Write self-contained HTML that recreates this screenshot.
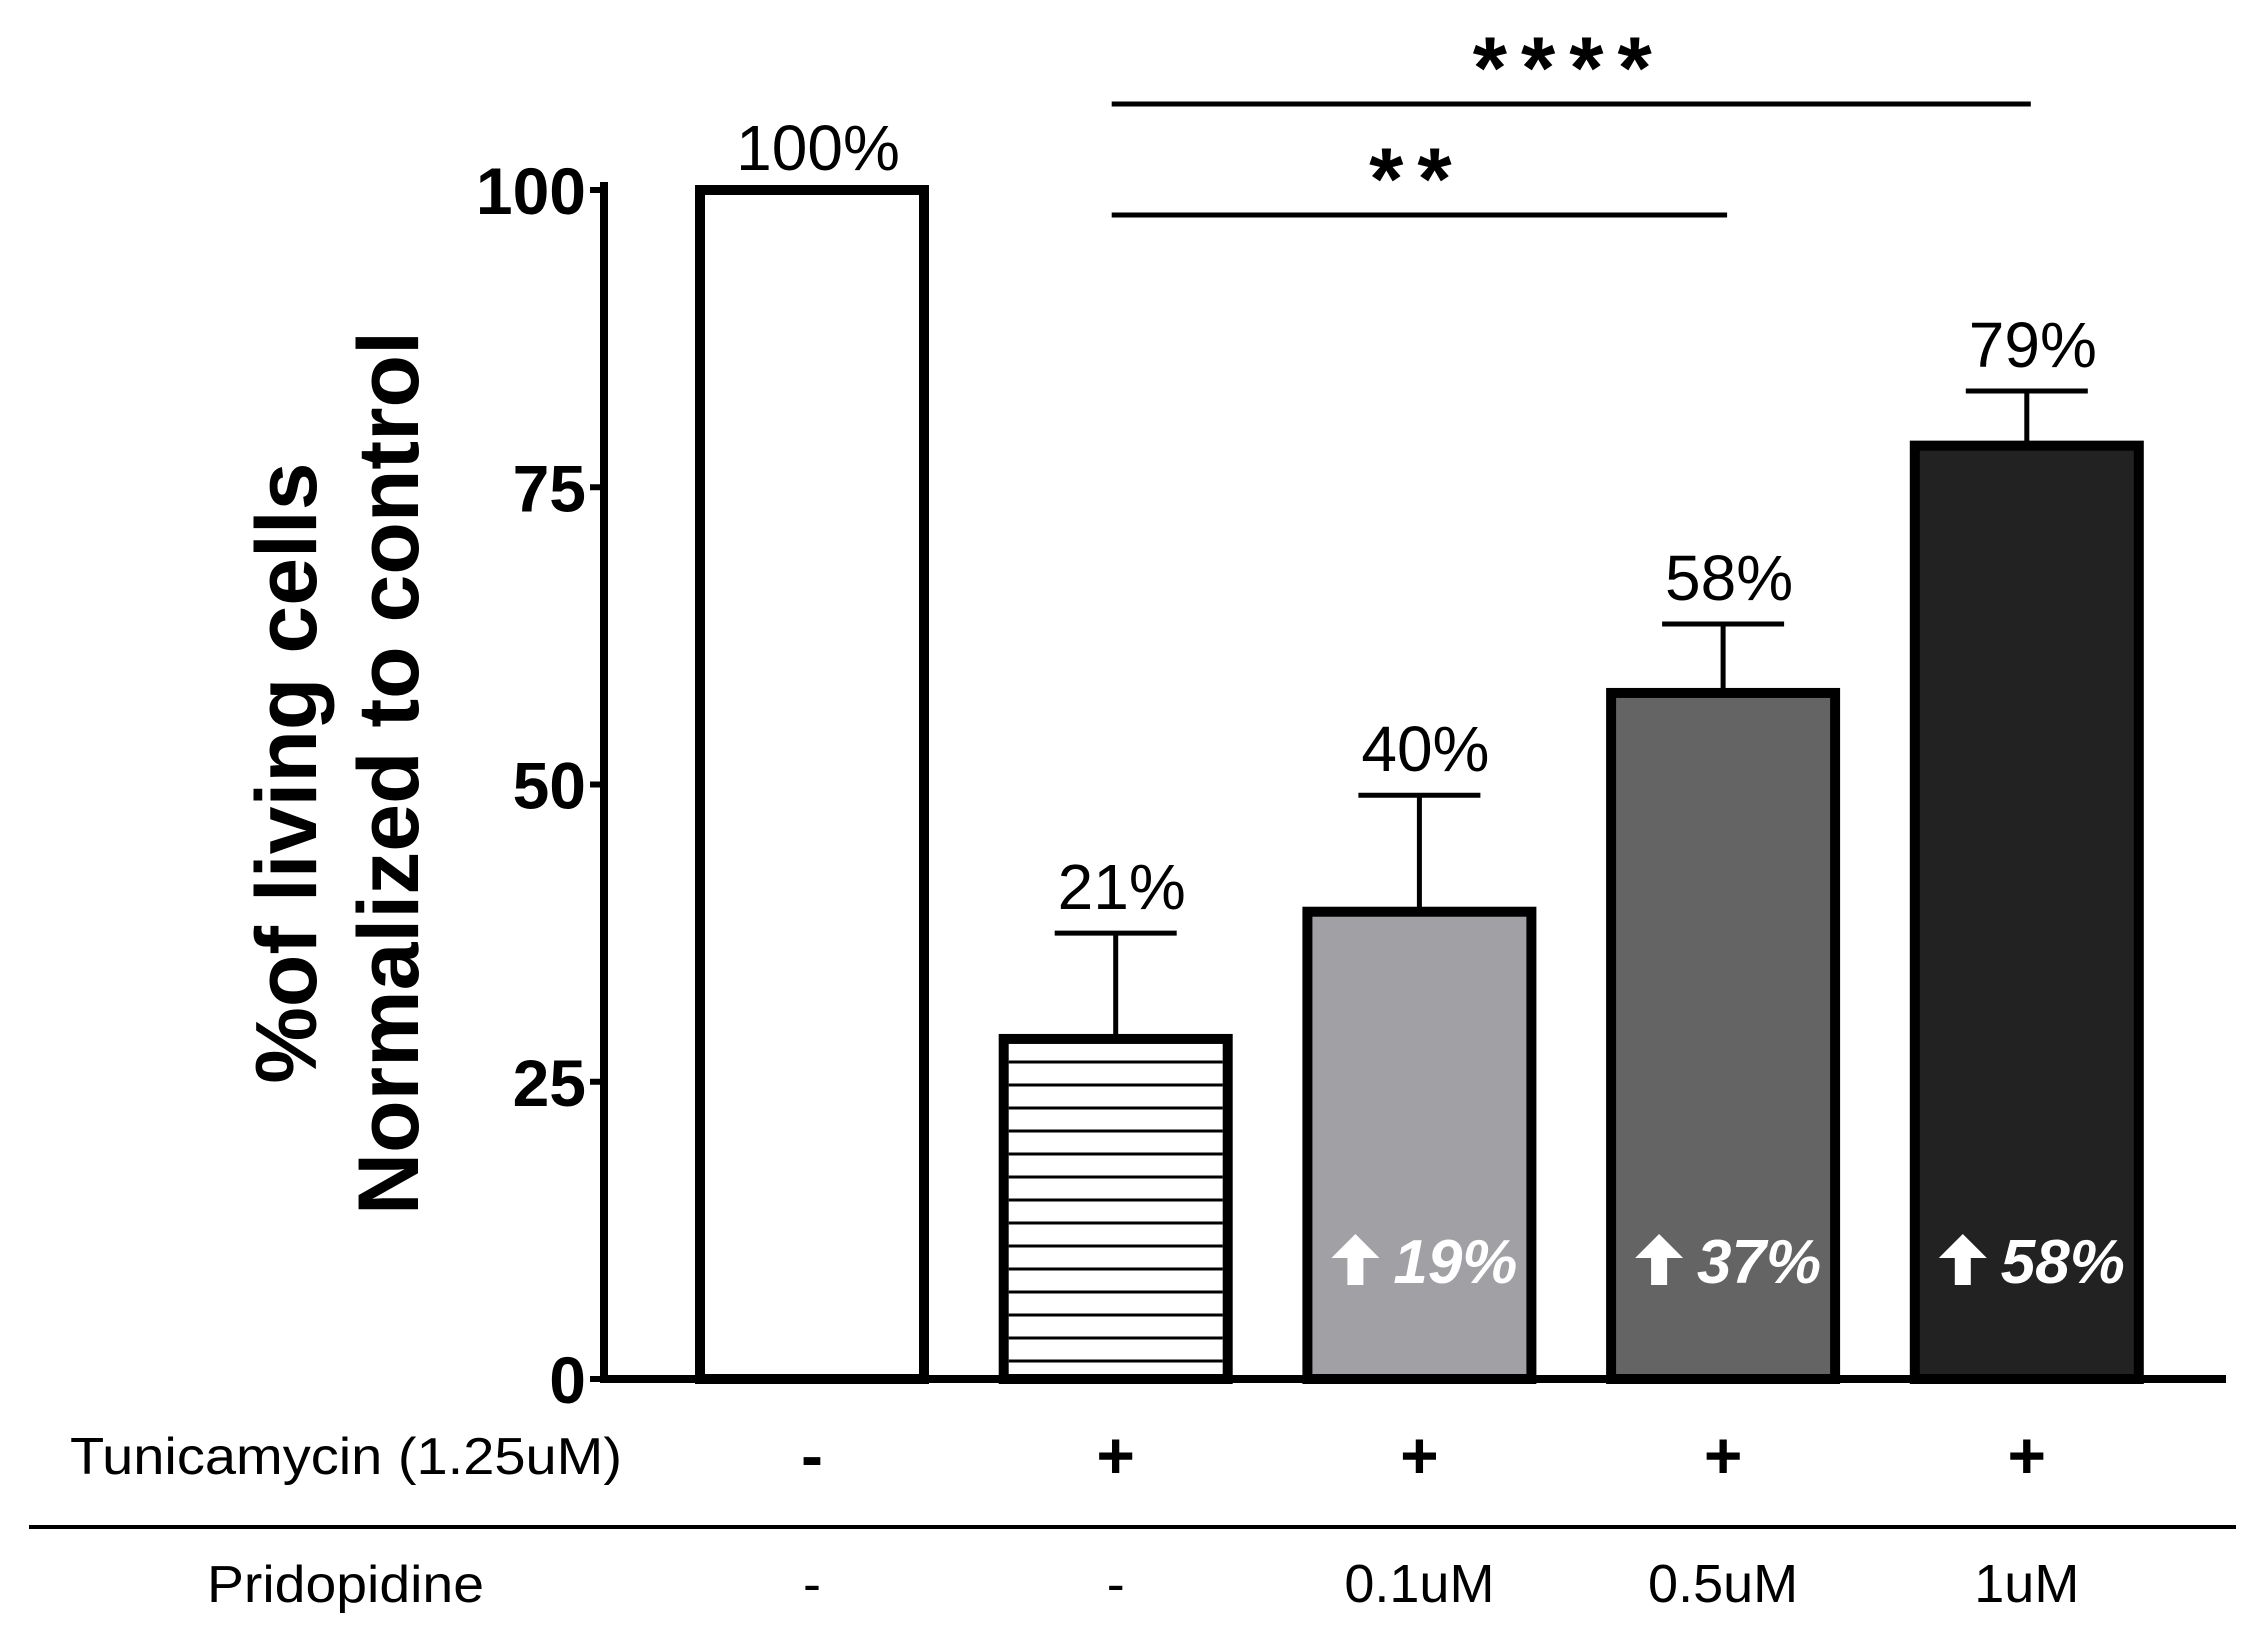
<!DOCTYPE html>
<html><head><meta charset="utf-8"><style>
html,body{margin:0;padding:0;background:#fff;}
svg{display:block;font-family:"Liberation Sans",sans-serif;}
</style></head><body>
<svg id="chart" width="2265" height="1632" viewBox="0 0 2265 1632" xmlns="http://www.w3.org/2000/svg">
<g id="static">
  <text transform="translate(316,773) rotate(-90)" text-anchor="middle" font-size="86" font-weight="bold">%of living cells</text>
  <text transform="translate(418,773) rotate(-90)" text-anchor="middle" font-size="86" font-weight="bold">Normalized to control</text>
  <text x="70" y="1474" font-size="52" textLength="552" lengthAdjust="spacingAndGlyphs">Tunicamycin (1.25uM)</text>
  <line x1="29" y1="1527" x2="2236" y2="1527" stroke="#000" stroke-width="4"/>
  <text x="207" y="1602" font-size="52" textLength="277" lengthAdjust="spacingAndGlyphs">Pridopidine</text>
</g>
<g id="marks"></g>
</svg>
<script>
const categories = ["Control", "Tunicamycin", "Tun+Prid 0.1uM", "Tun+Prid 0.5uM", "Tun+Prid 1uM"];
const values = [100, 28.6, 39.3, 57.7, 78.5];
const errors = [0, 8.9, 9.8, 5.8, 4.6];
const valueLabels = ["100%", "21%", "40%", "58%", "79%"];
const innerLabels = ["", "", "19%", "37%", "58%"];
const tunicamycinRow = ["-", "+", "+", "+", "+"];
const pridopidineRow = ["-", "-", "0.1uM", "0.5uM", "1uM"];
const fills = ["#ffffff", "hatch", "#a1a0a5", "#646464", "#222222"];
const yTicks = [0, 25, 50, 75, 100];
const sigBars = [{from: 1, to: 4, label: "****"}, {from: 1, to: 3, label: "**"}];

const NS = "http://www.w3.org/2000/svg";
const g = document.getElementById("marks");
const y0 = 1379, y100 = 190;
function yScale(v){ return y0 - (y0 - y100) * v / 100; }
function xScale(i){ return 812 + i * 303.7; }
const barW = 224;
function mk(tag, attrs){ const e = document.createElementNS(NS, tag); for (const k in attrs) e.setAttribute(k, attrs[k]); g.appendChild(e); return e; }

categories.forEach((c, i) => {
  const x = xScale(i) - barW/2, yt = yScale(values[i]);
  const fill = fills[i] === "hatch" ? "#fff" : fills[i];
  const r = mk("rect", {x: x, y: yt, width: barW, height: y0 - yt, fill: fill, stroke: "#000", "stroke-width": 10});
  
  
  if (fills[i] === "hatch") {
    for (let yy = yt + 23; yy < y0 - 6; yy += 23) {
      const l = mk("line", {x1: x + 5, x2: x + barW - 5, y1: yy, y2: yy, stroke: "#000", "stroke-width": 3});
      
      
    }
  }
  let labelY = yt - 20;
  if (errors[i] > 0) {
    const ye = yScale(values[i] + errors[i]);
    const el = mk("line", {x1: xScale(i), x2: xScale(i), y1: yt, y2: ye, stroke: "#000", "stroke-width": 5});
    
    
    const cap = mk("line", {x1: xScale(i) - 61, x2: xScale(i) + 61, y1: ye, y2: ye, stroke: "#000", "stroke-width": 5});
    
    
    labelY = ye - 24;
  }
  const t = mk("text", {x: xScale(i) + 6, y: labelY, "text-anchor": "middle", "font-size": 64});
  t.textContent = valueLabels[i];
  
  
  if (innerLabels[i]) {
    const it = mk("text", {x: xScale(i) + 36, y: 1283, "text-anchor": "middle", "font-size": 62, "font-weight": "bold", "font-style": "italic", fill: "#fff"});
    it.textContent = innerLabels[i];
    
    
    const ax = xScale(i) - 64;
    const ar = mk("path", {d: `M${ax-24},1258 L${ax},1234 L${ax+24},1258 L${ax+8},1258 L${ax+8},1285 L${ax-8},1285 L${ax-8},1258 Z`, fill: "#fff"});
    
    
  }
  const tr = mk("text", {x: xScale(i), y: 1478, "text-anchor": "middle", "font-size": 66, "font-weight": "bold"});
  tr.textContent = tunicamycinRow[i];
  
  
  const pr = mk("text", {x: xScale(i), y: 1602, "text-anchor": "middle", "font-size": 54});
  pr.textContent = pridopidineRow[i];
  
  
});

const ya = mk("line", {x1: 604, x2: 604, y1: y100 - 8, y2: y0 + 4, stroke: "#000", "stroke-width": 8});


const xa = mk("line", {x1: 600, x2: 2226, y1: y0, y2: y0, stroke: "#000", "stroke-width": 8});


yTicks.forEach(v => {
  const tk = mk("line", {x1: 590, x2: 604, y1: yScale(v), y2: yScale(v), stroke: "#000", "stroke-width": 6});
  
  
  const tl = mk("text", {x: 586, y: yScale(v) + 24, "text-anchor": "end", "font-size": 66, "font-weight": "bold"});
  tl.textContent = v;
  
  
});

const sigY = [104, 215];
sigBars.forEach((s, k) => {
  const l = mk("line", {x1: xScale(s.from) - 4, x2: xScale(s.to) + 4, y1: sigY[k], y2: sigY[k], stroke: "#000", "stroke-width": 5});
  
  
  const t = mk("text", {x: (xScale(s.from) + xScale(s.to)) / 2 - 2, y: sigY[k] - 6, "text-anchor": "middle", "font-size": 88, "font-weight": "bold", "letter-spacing": "14"});
  t.textContent = s.label;
  
  
});
</script>
</body></html>
